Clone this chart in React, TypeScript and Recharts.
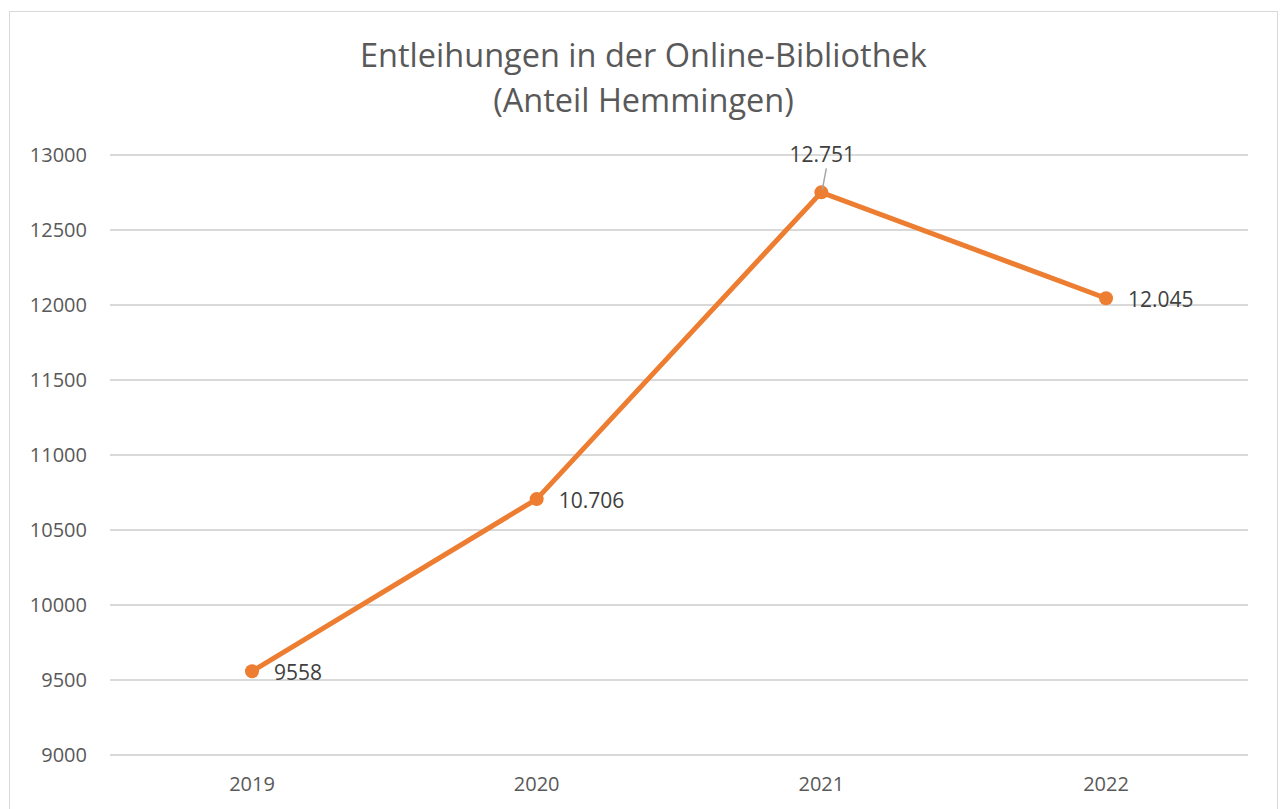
import { LineChart, Line, XAxis, YAxis, CartesianGrid, LabelList } from "recharts"

const years = ["2019", "2020", "2021", "2022"]
const loans = [9558, 10706, 12751, 12045]
const loanLabels = ["9558", "10.706", "12.751", "12.045"]
const yTicks = [9000, 9500, 10000, 10500, 11000, 11500, 12000, 12500, 13000]

const data = years.map((year, i) => ({ year, loans: loans[i], label: loanLabels[i] }))

const FONT = "'Open Sans', 'Noto Sans', sans-serif"
const ORANGE = "#ED7D31"
const maxLoans = Math.max(...loans)

// Excel-style data labels: right of the point, the peak one sits above with a leader line
function PointLabel(props: any) {
  const { x, y, index } = props
  const value = loans[index]
  const text = loanLabels[index]
  if (value === maxLoans) {
    return (
      <g>
        <line x1={x + 5} y1={y - 24} x2={x + 1} y2={y - 3} stroke="#a6a6a6" strokeWidth={1.5} />
        <text x={x + 1} y={y - 38} textAnchor="middle" dominantBaseline="central" fill="#404040" fontSize={21} fontFamily={FONT}>
          {text}
        </text>
      </g>
    )
  }
  return (
    <text x={x + 22} y={y + 1} textAnchor="start" dominantBaseline="central" fill="#404040" fontSize={21} fontFamily={FONT}>
      {text}
    </text>
  )
}

export default function App() {
  return (
    <div
      style={{
        position: "absolute",
        left: 9,
        top: 11,
        width: 1267,
        height: 798,
        border: "1px solid #d9d9d9",
        background: "#fff",
      }}
    >
      <div
        style={{
          position: "absolute",
          left: 0,
          right: 0,
          top: 20,
          textAlign: "center",
          fontFamily: FONT,
          fontSize: 32.5,
          lineHeight: "45px",
          color: "#595959",
        }}
      >
        Entleihungen in der Online-Bibliothek
        <br />
        (Anteil Hemmingen)
      </div>
      <LineChart width={1267} height={798} data={data} margin={{ top: 143, right: 29, bottom: 15, left: 0 }}>
        <CartesianGrid horizontal vertical={false} stroke="#d9d9d9" strokeWidth={2} />
        <XAxis
          dataKey="year"
          axisLine={false}
          tickLine={false}
          tickSize={0}
          tickMargin={22}
          height={40}
          padding={{ left: 142, right: 142 }}
          tick={{ fontSize: 20, fill: "#595959", fontFamily: FONT }}
        />
        <YAxis
          domain={[9000, 13000]}
          ticks={yTicks}
          interval={0}
          axisLine={false}
          tickLine={false}
          tickSize={0}
          tickMargin={23}
          width={100}
          tick={{ fontSize: 20, fill: "#595959", fontFamily: FONT }}
        />
        <Line
          type="linear"
          dataKey="loans"
          stroke={ORANGE}
          strokeWidth={5}
          dot={{ r: 7, fill: ORANGE, stroke: ORANGE, strokeWidth: 0 }}
          isAnimationActive={false}
        >
          <LabelList dataKey="label" content={PointLabel} />
        </Line>
      </LineChart>
    </div>
  )
}
